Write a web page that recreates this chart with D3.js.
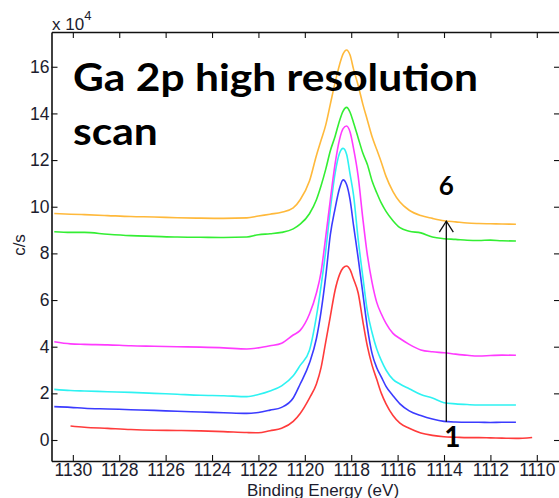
<!DOCTYPE html>
<html>
<head>
<meta charset="utf-8">
<script src="https://cdn.jsdelivr.net/npm/d3@7/dist/d3.min.js"></script>
<style>
  html, body { margin: 0; padding: 0; background: #fff; }
  svg { display: block; }
</style>
</head>
<body>
<svg id="chart" width="559" height="498"></svg>
<script>
// Ga 2p high-resolution XPS scans, counts in units of 1e4 c/s
const energy = [1130.8, 1130.1, 1129.5, 1128.5, 1127.5, 1126.5, 1125.5, 1124.5, 1123.5, 1122.5,
  1122, 1121.5, 1121, 1120.5, 1120.2, 1119.8, 1119.5, 1119.3, 1119.1, 1118.9,
  1118.7, 1118.5, 1118.35, 1118.2, 1118.05, 1117.9, 1117.7, 1117.5, 1117.3, 1117.1,
  1116.9, 1116.7, 1116.5, 1116.2, 1115.9, 1115.5, 1115, 1114.5, 1114, 1113.5,
  1113, 1112.5, 1112, 1111.5, 1110.9, 1110.2];

const scan1 = [null, 0.6, 0.55, 0.5, 0.45, 0.42, 0.41, 0.39, 0.36, 0.32,
  0.31, 0.4, 0.5, 0.8, 1.14, 1.8, 2.4, 3.1, 4.2, 5.3,
  6.4, 7.1, 7.38, 7.46, 7.3, 6.9, 6.3, 5.1, 4.0, 3.2,
  2.6, 2.0, 1.55, 1.05, 0.72, 0.5, 0.3, 0.2, 0.14, 0.12,
  0.1, 0.1, 0.09, 0.08, 0.07, 0.11];
const scan2 = [1.43, 1.4, 1.36, 1.33, 1.3, 1.27, 1.23, 1.2, 1.17, 1.14,
  1.18, 1.28, 1.4, 1.8, 2.4, 3.3, 4.35, 5.5, 7.0, 8.8,
  9.9, 10.8, 11.15, 10.95, 10.3, 9.2, 7.8, 6.3, 4.8, 3.7,
  3.1, 2.7, 2.3, 1.9, 1.55, 1.25, 1.05, 0.9, 0.8, 0.77,
  0.76, 0.76, 0.75, 0.76, 0.76, null];
const scan3 = [2.17, 2.12, 2.1, 2.07, 2.04, 2.0, 1.96, 1.92, 1.9, 1.86,
  1.95, 2.1, 2.32, 2.75, 3.2, 3.85, 5.3, 6.6, 8.1, 9.9,
  11.4, 12.3, 12.5, 12.25, 11.4, 10.5, 8.6, 7.0, 5.5, 4.6,
  3.9, 3.4, 3.0, 2.6, 2.4, 2.2, 1.95, 1.8, 1.6, 1.55,
  1.52, 1.5, 1.5, 1.5, 1.5, null];
const scan4 = [4.21, 4.12, 4.1, 4.08, 4.04, 4.02, 4.0, 3.98, 3.95, 3.9,
  3.95, 4.04, 4.15, 4.5, 4.7, 5.4, 6.3, 7.2, 8.7, 10.3,
  11.8, 12.9, 13.35, 13.46, 13.2, 12.5, 11.3, 9.5, 7.9, 6.75,
  5.9, 5.4, 5.0, 4.57, 4.35, 4.1, 3.86, 3.78, 3.74, 3.68,
  3.63, 3.6, 3.62, 3.64, 3.63, null];
const scan5 = [8.93, 8.9, 8.9, 8.82, 8.76, 8.73, 8.7, 8.69, 8.68, 8.7,
  8.8, 8.84, 8.9, 9.05, 9.25, 9.7, 10.3, 10.9, 11.6, 12.4,
  13.0, 13.7, 14.1, 14.26, 14.05, 13.6, 12.95, 12.3, 11.8, 11.1,
  10.6, 10.15, 9.8, 9.4, 9.1, 8.95, 8.88, 8.7, 8.63, 8.6,
  8.56, 8.55, 8.57, 8.54, 8.53, null];
const scan6 = [9.71, 9.68, 9.66, 9.62, 9.58, 9.56, 9.53, 9.51, 9.5, 9.52,
  9.6, 9.68, 9.76, 9.95, 10.3, 11.1, 12.2, 12.85, 13.5, 14.4,
  15.3, 16.1, 16.55, 16.72, 16.5, 15.9, 15.2, 14.4, 13.7, 13.0,
  12.45, 11.9, 11.3, 10.65, 10.2, 9.85, 9.62, 9.5, 9.4, 9.35,
  9.3, 9.28, 9.27, 9.26, 9.25, null];

const series = [scan1, scan2, scan3, scan4, scan5, scan6];
const colors = ["#ff3b3b", "#3b3bff", "#2ef2f2", "#ff3bff", "#33ee33", "#ffb93b"];

const xTicks = [1130, 1128, 1126, 1124, 1122, 1120, 1118, 1116, 1114, 1112, 1110];
const yTicks = [0, 2, 4, 6, 8, 10, 12, 14, 16];

const plot = { left: 51.5, right: 560, top: 32, bottom: 461 };

const svg = d3.select("#chart");

const x = d3.scaleLinear().domain([1130.92, 1109.0]).range([plot.left, plot.right]);
const y = d3.scaleLinear().domain([-0.9, 17.49]).range([plot.bottom, plot.top]);

const tickFont = "'Liberation Sans', Arial, sans-serif";
const tickColor = "#1c1c2e";

// spectra
const line = d3.line()
  .defined(d => d[1] != null)
  .x(d => x(d[0]))
  .y(d => y(d[1]))
  .curve(d3.curveMonotoneX);

series.forEach((vals, i) => {
  svg.append("path")
    .datum(energy.map((e, k) => [e, vals[k]]))
    .attr("fill", "none")
    .attr("stroke", colors[i])
    .attr("stroke-width", 1.6)
    .attr("stroke-linejoin", "round")
    .attr("d", line);
});

// axes box with inward ticks on all four sides
const tickLen = 6;
const axisG = svg.append("g");
const fmt = d3.format("d");

const bottomAxis = d3.axisBottom(x).tickValues(xTicks).tickFormat(fmt).tickSizeInner(-tickLen).tickSizeOuter(0).tickPadding(3);
const topAxis = d3.axisTop(x).tickValues(xTicks).tickSizeInner(-tickLen).tickSizeOuter(0).tickFormat("");
const leftAxis = d3.axisLeft(y).tickValues(yTicks).tickFormat(fmt).tickSizeInner(-tickLen).tickSizeOuter(0).tickPadding(2);
const rightAxis = d3.axisRight(y).tickValues(yTicks).tickSizeInner(-tickLen).tickSizeOuter(0).tickFormat("");

function styleAxis(g) {
  g.select(".domain").attr("stroke", "#111").attr("stroke-width", 1.6);
  g.selectAll(".tick line").attr("stroke", "#111").attr("stroke-width", 1.1);
  g.selectAll(".tick text")
    .attr("fill", tickColor)
    .style("font-family", tickFont)
    .style("font-size", "17.5px");
}

axisG.append("g").attr("transform", `translate(0,${plot.bottom})`).call(bottomAxis).call(styleAxis);
axisG.append("g").attr("transform", `translate(0,${plot.top})`).call(topAxis).call(styleAxis);
axisG.append("g").attr("transform", `translate(${plot.left},0)`).call(leftAxis).call(styleAxis);
axisG.append("g").attr("transform", `translate(${plot.right},0)`).call(rightAxis).call(styleAxis);

// axis titles
svg.append("text")
  .attr("x", 323).attr("y", 495.5)
  .attr("text-anchor", "middle")
  .attr("fill", tickColor)
  .style("font-family", tickFont).style("font-size", "17px")
  .text("Binding Energy (eV)");

svg.append("text")
  .attr("transform", `translate(25,245) rotate(-90)`)
  .attr("text-anchor", "middle")
  .attr("fill", tickColor)
  .style("font-family", tickFont).style("font-size", "17px")
  .text("c/s");

// exponent marker above the y axis
const expo = svg.append("text")
  .attr("x", 52).attr("y", 30)
  .attr("fill", tickColor)
  .style("font-family", tickFont).style("font-size", "17px");
expo.append("tspan").text("x 10");
expo.append("tspan").attr("dy", -10).style("font-size", "13px").text("4");

// title, condensed to a fixed line width
const title = svg.append("g")
  .style("font-family", "Lato, 'Open Sans', sans-serif")
  .style("font-weight", "bold")
  .style("font-size", "38px")
  .attr("fill", "#000");
const t1 = title.append("text").attr("x", 73).attr("y", 91).text("Ga 2p high resolution");
const t2 = title.append("text").attr("x", 73).attr("y", 145).text("scan");
const squeeze = 405 / t1.node().getComputedTextLength();
[t1, t2].forEach(t => {
  t.attr("textLength", t.node().getComputedTextLength() * squeeze)
   .attr("lengthAdjust", "spacingAndGlyphs");
});

// arrow from scan 1 up to scan 6
const arrowE = 1113.9;
const ax = x(arrowE);
const yLow = y(0.78), yHigh = y(9.38);
svg.append("line")
  .attr("x1", ax).attr("x2", ax).attr("y1", yLow).attr("y2", yHigh)
  .attr("stroke", "#111").attr("stroke-width", 1.4);
svg.append("path")
  .attr("d", `M${ax - 7},${yHigh + 11}L${ax},${yHigh}L${ax + 7},${yHigh + 11}`)
  .attr("fill", "none").attr("stroke", "#111").attr("stroke-width", 1.3);

const numFont = "Lato, 'Open Sans', sans-serif";
svg.append("text")
  .attr("x", ax).attr("y", yHigh - 26)
  .attr("text-anchor", "middle")
  .style("font-family", numFont).style("font-weight", "bold").style("font-size", "26px")
  .attr("fill", "#000")
  .text("6");
svg.append("text")
  .attr("x", ax + 6).attr("y", yLow + 25)
  .attr("text-anchor", "middle")
  .style("font-family", numFont).style("font-weight", "bold").style("font-size", "28px")
  .attr("fill", "#000")
  .text("1");
</script>
</body>
</html>
